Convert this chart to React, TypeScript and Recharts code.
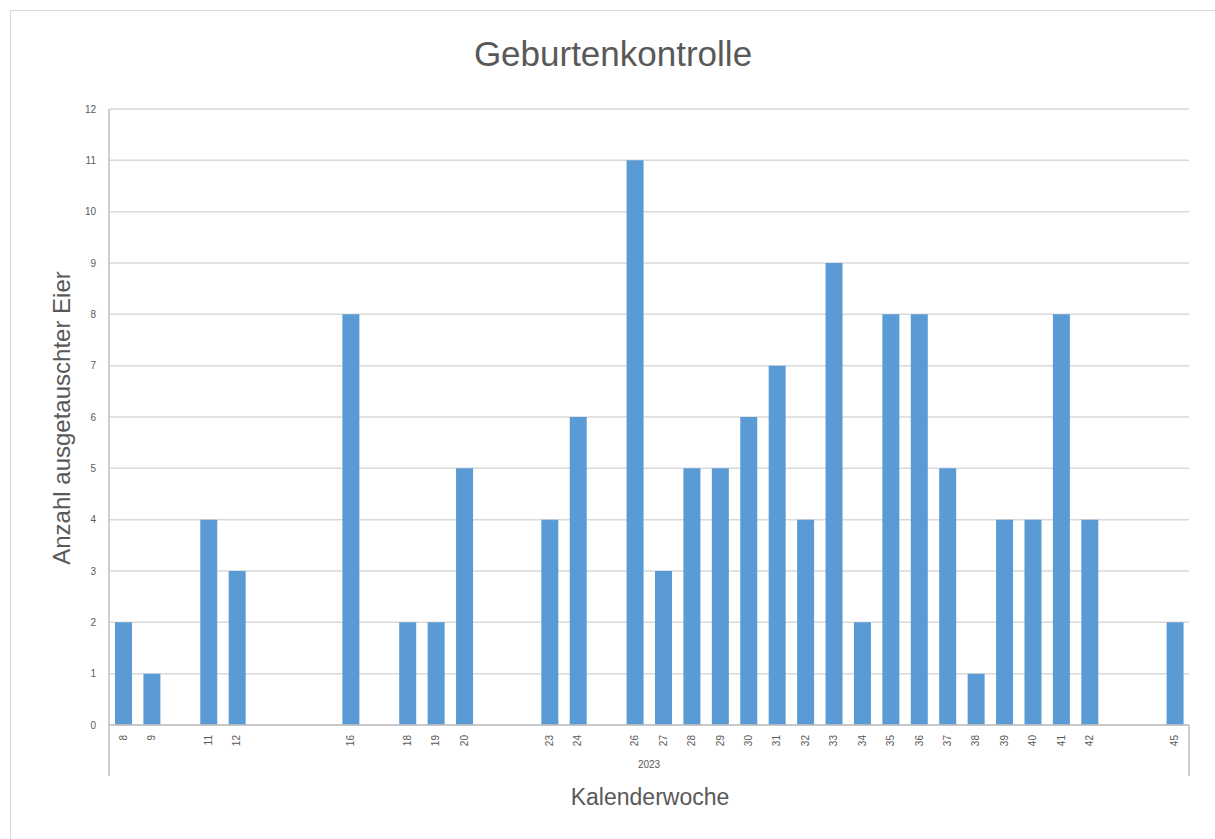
import { BarChart, Bar, XAxis, YAxis, CartesianGrid } from 'recharts';

const weeks = ['8', '9', '10', '11', '12', '13', '14', '15', '16', '17', '18', '19', '20', '21', '22', '23', '24', '25', '26', '27', '28', '29', '30', '31', '32', '33', '34', '35', '36', '37', '38', '39', '40', '41', '42', '43', '44', '45'];
const eggs = [2, 1, null, 4, 3, null, null, null, 8, null, 2, 2, 5, null, null, 4, 6, null, 11, 3, 5, 5, 6, 7, 4, 9, 2, 8, 8, 5, 1, 4, 4, 8, 4, null, null, 2];
const year = '2023';
const yTicks = [0, 1, 2, 3, 4, 5, 6, 7, 8, 9, 10, 11, 12];

const FONT = '"Liberation Sans", Arial, sans-serif';
const TEXT = '#595959';
const AXIS = '#bfbfbf';

const CHART_W = 1204;
const CHART_H = 828;
const MARGIN = { top: 98, right: 26, bottom: 60, left: 48 };
const Y_AXIS_W = 50;
const PLOT_W = CHART_W - MARGIN.left - MARGIN.right - Y_AXIS_W;
const HALF_SLOT = PLOT_W / weeks.length / 2;

const data = weeks.map((w, i) => ({ week: w, eggs: eggs[i], year }));

function WeekTick(props: any) {
  const { x, y, payload, index } = props;
  const axisY = y - 10;
  const hasValue = eggs[index] !== null;
  return (
    <g>
      {hasValue && (
        <text
          x={0}
          y={0}
          transform={`translate(${x},${y}) rotate(-90)`}
          textAnchor="end"
          dominantBaseline="central"
          fontSize={10}
          fill={TEXT}
          fontFamily={FONT}
        >
          {payload.value}
        </text>
      )}
      {index === 0 && (
        <line x1={x - HALF_SLOT} x2={x - HALF_SLOT} y1={axisY} y2={axisY + 51} stroke={AXIS} strokeWidth={1.5} />
      )}
      {index === weeks.length - 1 && (
        <line x1={x + HALF_SLOT} x2={x + HALF_SLOT} y1={axisY} y2={axisY + 51} stroke={AXIS} strokeWidth={1.5} />
      )}
    </g>
  );
}

export default function App() {
  return (
    <div style={{ position: 'fixed', left: 0, top: 0, width: 1215, height: 839, overflow: 'hidden', background: '#fff', fontFamily: FONT }}>
      <div style={{ position: 'absolute', left: 10, top: 10, width: 1230, height: 860, border: '1px solid #d9d9d9', boxSizing: 'border-box' }} />
      <div style={{ position: 'absolute', left: 0, width: 1226, top: 34, textAlign: 'center', fontSize: 35, color: TEXT }}>
        Geburtenkontrolle
      </div>
      <div style={{ position: 'absolute', left: 650, top: 797, transform: 'translate(-50%, -50%)', fontSize: 23, color: TEXT, whiteSpace: 'nowrap' }}>
        Kalenderwoche
      </div>
      <div style={{ position: 'absolute', left: 62, top: 418, transform: 'translate(-50%, -50%) rotate(-90deg)', fontSize: 24, color: TEXT, whiteSpace: 'nowrap' }}>
        Anzahl ausgetauschter Eier
      </div>
      <div style={{ position: 'absolute', left: 11, top: 11 }}>
        <BarChart width={CHART_W} height={CHART_H} data={data} margin={MARGIN} barSize={17}>
          <CartesianGrid xAxisId="week" vertical={false} stroke="#d9d9d9" strokeWidth={1.5} />
          <XAxis
            xAxisId="week"
            dataKey="week"
            interval={0}
            height={34}
            tickSize={0}
            tickMargin={10}
            axisLine={{ stroke: AXIS, strokeWidth: 1.5 }}
            tickLine={false}
            tick={<WeekTick />}
          />
          <XAxis
            xAxisId="year"
            dataKey="year"
            allowDuplicatedCategory={false}
            height={20}
            tickSize={0}
            tickMargin={2}
            axisLine={false}
            tickLine={false}
            tick={{ fill: TEXT, fontSize: 10, fontFamily: FONT }}
          />
          <YAxis
            width={Y_AXIS_W}
            domain={[0, 12]}
            ticks={yTicks}
            interval={0}
            tickLine={false}
            tickMargin={7}
            axisLine={{ stroke: AXIS, strokeWidth: 1.5 }}
            tick={{ fill: TEXT, fontSize: 10, fontFamily: FONT }}
          />
          <Bar xAxisId="week" dataKey="eggs" fill="#5b9bd5" isAnimationActive={false} />
        </BarChart>
      </div>
    </div>
  );
}
